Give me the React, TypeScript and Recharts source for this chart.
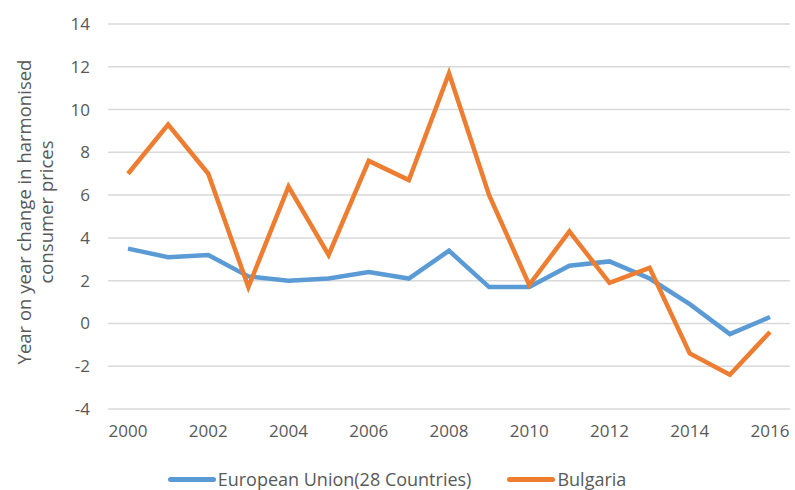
import React from 'react';
import { LineChart, Line, XAxis, YAxis, CartesianGrid, Legend } from 'recharts';

const years = [
  '2000', '2001', '2002', '2003', '2004', '2005', '2006', '2007', '2008',
  '2009', '2010', '2011', '2012', '2013', '2014', '2015', '2016',
];
const euValues = [3.5, 3.1, 3.2, 2.2, 2.0, 2.1, 2.4, 2.1, 3.4, 1.7, 1.7, 2.7, 2.9, 2.1, 0.9, -0.5, 0.3];
const bulgariaValues = [7.0, 9.3, 7.0, 1.7, 6.4, 3.2, 7.6, 6.7, 11.7, 6.0, 1.8, 4.3, 1.9, 2.6, -1.4, -2.4, -0.4];
const yTicks = [-4, -2, 0, 2, 4, 6, 8, 10, 12, 14];

const data = years.map((year, i) => ({
  year,
  eu: euValues[i],
  bg: bulgariaValues[i],
}));

const FONT = '"Open Sans", sans-serif';
const TEXT = '#595959';

const YLabel = () => (
  <g>
    <text
      x={0}
      y={0}
      transform="translate(31, 212) rotate(-90)"
      textAnchor="middle"
      fontFamily={FONT}
      fontSize={18.5}
      fill={TEXT}
    >
      Year on year change in harmonised
    </text>
    <text
      x={0}
      y={0}
      transform="translate(53, 212) rotate(-90)"
      textAnchor="middle"
      fontFamily={FONT}
      fontSize={18.5}
      fill={TEXT}
    >
      consumer prices
    </text>
  </g>
);

const renderLegend = () => (
  <div
    style={{
      display: 'flex',
      justifyContent: 'center',
      alignItems: 'center',
      fontFamily: FONT,
      fontSize: 18,
      lineHeight: '22px',
      color: TEXT,
      height: 22,
      paddingLeft: 4,
    }}
  >
    <span style={{ display: 'inline-block', width: 48, height: 5, borderRadius: 3, background: '#5B9BD5', marginRight: 2 }} />
    <span style={{ marginRight: 36 }}>European Union(28 Countries)</span>
    <span style={{ display: 'inline-block', width: 48, height: 5, borderRadius: 3, background: '#ED7D31', marginRight: 2 }} />
    <span>Bulgaria</span>
  </div>
);

export default function App() {
  return (
    <div style={{ position: 'absolute', top: 0, left: 0, width: 795, height: 490, background: '#fff', overflow: 'hidden' }}>
      <LineChart width={795} height={490} data={data} margin={{ top: 24, right: 5, left: 0, bottom: 0 }}>
        <CartesianGrid vertical={false} stroke="#d9d9d9" strokeWidth={1.5} />
        <XAxis
          dataKey="year"
          interval={1}
          axisLine={false}
          tickLine={false}
          padding={{ left: 20, right: 20 }}
          height={59}
          tick={{ fontFamily: FONT, fontSize: 17, fill: TEXT }}
          tickMargin={10}
        />
        <YAxis
          domain={[-4, 14]}
          ticks={yTicks}
          interval={0}
          width={108}
          axisLine={false}
          tickLine={false}
          tickMargin={12}
          tick={{ fontFamily: FONT, fontSize: 17, fill: TEXT }}
          label={<YLabel />}
        />
        <Legend verticalAlign="bottom" wrapperStyle={{ bottom: 0 }} content={renderLegend} />
        <Line
          type="linear"
          dataKey="eu"
          name="European Union(28 Countries)"
          stroke="#5B9BD5"
          strokeWidth={4.5}
          dot={false}
          isAnimationActive={false}
        />
        <Line
          type="linear"
          dataKey="bg"
          name="Bulgaria"
          stroke="#ED7D31"
          strokeWidth={4.5}
          dot={false}
          isAnimationActive={false}
        />
      </LineChart>
    </div>
  );
}
